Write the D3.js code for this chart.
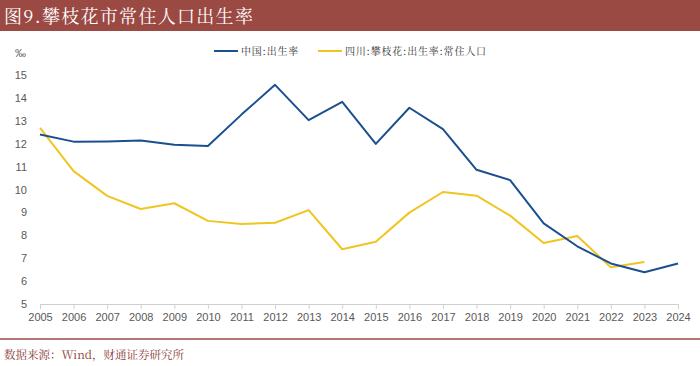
<!DOCTYPE html>
<html>
<head>
<meta charset="utf-8">
<script src="https://cdn.jsdelivr.net/npm/d3@7"></script>
<style>
  body { margin: 0; background: #fff; }
  svg { display: block; }
</style>
</head>
<body>
<script>
// data
const years = ["2005","2006","2007","2008","2009","2010","2011","2012","2013","2014",
  "2015","2016","2017","2018","2019","2020","2021","2022","2023","2024"];
const china = [12.40, 12.09, 12.10, 12.14, 11.95, 11.90, 13.27, 14.57, 13.03, 13.83,
  11.99, 13.57, 12.64, 10.86, 10.41, 8.52, 7.52, 6.77, 6.39, 6.77];
const panzhihua = [12.69, 10.80, 9.72, 9.15, 9.40, 8.63, 8.49, 8.55, 9.10, 7.39,
  7.72, 8.99, 9.89, 9.73, 8.86, 7.66, 7.97, 6.60, 6.83, null];
const yTicks = [5, 6, 7, 8, 9, 10, 11, 12, 13, 14, 15];

const W = 700, H = 366;
const svg = d3.select("body").append("svg")
  .attr("width", W)
  .attr("height", H);

// title bar
svg.append("rect")
  .attr("x", 0).attr("y", 0)
  .attr("width", W).attr("height", 31)
  .attr("fill", "#9a4943");
svg.append("text")
  .attr("x", 4).attr("y", 23)
  .attr("fill", "#fff")
  .style("font-family", "'Noto Serif CJK SC','Noto Sans CJK SC',serif")
  .style("font-size", "18px")
  .style("letter-spacing", "1.3px")
  .text("图9.攀枝花市常住人口出生率");

const x = d3.scalePoint().domain(years).range([40, 678]);
const y = d3.scaleLinear().domain([5, 15]).range([304, 75]);

// y axis labels (no axis line)
const yAxis = svg.append("g")
  .attr("transform", "translate(27,0)")
  .call(d3.axisLeft(y).tickValues(yTicks).tickSize(0).tickPadding(0));
yAxis.select(".domain").remove();
yAxis.selectAll("text")
  .attr("fill", "#595959")
  .style("font-family", "'Liberation Sans',Arial,sans-serif")
  .style("font-size", "11px");

svg.append("text")
  .attr("x", 15).attr("y", 57)
  .attr("fill", "#595959")
  .style("font-family", "'Liberation Sans',Arial,sans-serif")
  .style("font-size", "11px")
  .text("‰");

// x axis
const xAxis = svg.append("g")
  .attr("transform", "translate(0,304)")
  .call(d3.axisBottom(x).tickSize(5).tickPadding(4).tickSizeOuter(0));
xAxis.select(".domain").attr("stroke", "#d0d0d0");
xAxis.selectAll(".tick line").attr("stroke", "#d0d0d0");
xAxis.selectAll("text")
  .attr("fill", "#595959")
  .style("font-family", "'Liberation Sans',Arial,sans-serif")
  .style("font-size", "11px");

// lines
const line = d3.line()
  .defined(d => d.v != null)
  .x(d => x(d.year))
  .y(d => y(d.v));

const series = [
  { name: "中国:出生率", color: "#1b4f8e", values: china },
  { name: "四川:攀枝花:出生率:常住人口", color: "#f0c522", values: panzhihua }
];

series.slice().reverse().forEach(s => {
  svg.append("path")
    .datum(years.map((yr, i) => ({ year: yr, v: s.values[i] })))
    .attr("fill", "none")
    .attr("stroke", s.color)
    .attr("stroke-width", 2)
    .attr("stroke-linejoin", "round")
    .attr("d", line);
});

// legend
const legendX = [214, 318];
series.forEach((s, i) => {
  const g = svg.append("g").attr("transform", `translate(${legendX[i]},51)`);
  g.append("line")
    .attr("x1", 0).attr("x2", 24)
    .attr("y1", 0).attr("y2", 0)
    .attr("stroke", s.color)
    .attr("stroke-width", 2);
  g.append("text")
    .attr("x", 27).attr("y", 4)
    .attr("fill", "#333")
    .style("font-family", "'Noto Serif CJK SC','Noto Sans CJK SC',serif")
    .style("font-size", "10px")
    .style("letter-spacing", "0.8px")
    .text(s.name);
});

// footer
svg.append("line")
  .attr("x1", 0).attr("x2", W)
  .attr("y1", 339).attr("y2", 339)
  .attr("stroke", "#9a4943")
  .attr("stroke-width", 1.5);
svg.append("text")
  .attr("x", 4).attr("y", 359)
  .attr("fill", "#8a3b36")
  .style("font-family", "'Noto Serif CJK SC','Liberation Serif',serif")
  .style("font-size", "11.5px")
  .text("数据来源：Wind，财通证券研究所");
</script>
</body>
</html>
